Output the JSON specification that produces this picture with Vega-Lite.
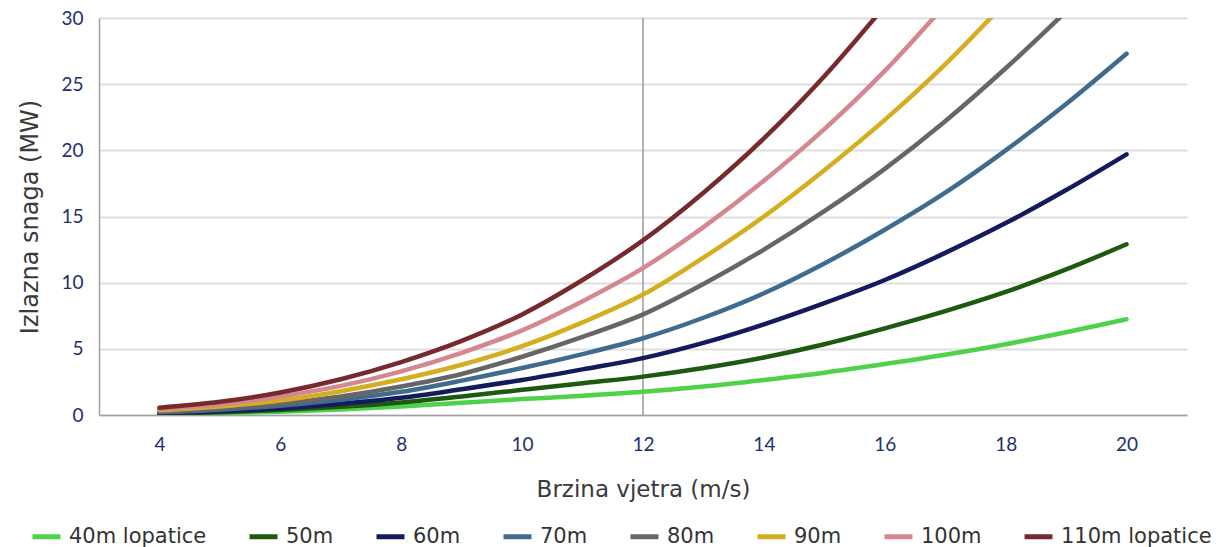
{
  "$schema": "https://vega.github.io/schema/vega-lite/v6.json",
  "width": 1088,
  "height": 397,
  "autosize": "none",
  "padding": {"left": 99, "top": 18, "right": 33, "bottom": 132},
  "background": "white",
  "config": {
    "view": {"stroke": null},
    "axis": {"titleFontWeight": "normal"}
  },
  "datasets": {
    "curves": [
      {"v":4,"s":"40m lopatice","p":0.07},{"v":5,"s":"40m lopatice","p":0.14},{"v":6,"s":"40m lopatice","p":0.25},{"v":7,"s":"40m lopatice","p":0.42},{"v":8,"s":"40m lopatice","p":0.65},{"v":9,"s":"40m lopatice","p":0.92},{"v":10,"s":"40m lopatice","p":1.2},{"v":11,"s":"40m lopatice","p":1.45},{"v":12,"s":"40m lopatice","p":1.75},{"v":13,"s":"40m lopatice","p":2.15},{"v":14,"s":"40m lopatice","p":2.65},{"v":15,"s":"40m lopatice","p":3.2},{"v":16,"s":"40m lopatice","p":3.85},{"v":17,"s":"40m lopatice","p":4.55},{"v":18,"s":"40m lopatice","p":5.35},{"v":19,"s":"40m lopatice","p":6.25},{"v":20,"s":"40m lopatice","p":7.23},
      {"v":4,"s":"50m","p":0.1},{"v":5,"s":"50m","p":0.2},{"v":6,"s":"50m","p":0.37},{"v":7,"s":"50m","p":0.62},{"v":8,"s":"50m","p":0.95},{"v":9,"s":"50m","p":1.4},{"v":10,"s":"50m","p":1.9},{"v":11,"s":"50m","p":2.4},{"v":12,"s":"50m","p":2.9},{"v":13,"s":"50m","p":3.55},{"v":14,"s":"50m","p":4.35},{"v":15,"s":"50m","p":5.35},{"v":16,"s":"50m","p":6.55},{"v":17,"s":"50m","p":7.85},{"v":18,"s":"50m","p":9.3},{"v":19,"s":"50m","p":11.0},{"v":20,"s":"50m","p":12.9},
      {"v":4,"s":"60m","p":0.15},{"v":5,"s":"60m","p":0.28},{"v":6,"s":"60m","p":0.5},{"v":7,"s":"60m","p":0.85},{"v":8,"s":"60m","p":1.3},{"v":9,"s":"60m","p":1.95},{"v":10,"s":"60m","p":2.65},{"v":11,"s":"60m","p":3.45},{"v":12,"s":"60m","p":4.3},{"v":13,"s":"60m","p":5.45},{"v":14,"s":"60m","p":6.85},{"v":15,"s":"60m","p":8.45},{"v":16,"s":"60m","p":10.2},{"v":17,"s":"60m","p":12.25},{"v":18,"s":"60m","p":14.5},{"v":19,"s":"60m","p":17.0},{"v":20,"s":"60m","p":19.7},
      {"v":4,"s":"70m","p":0.2},{"v":5,"s":"70m","p":0.4},{"v":6,"s":"70m","p":0.7},{"v":7,"s":"70m","p":1.15},{"v":8,"s":"70m","p":1.75},{"v":9,"s":"70m","p":2.6},{"v":10,"s":"70m","p":3.55},{"v":11,"s":"70m","p":4.6},{"v":12,"s":"70m","p":5.8},{"v":13,"s":"70m","p":7.35},{"v":14,"s":"70m","p":9.2},{"v":15,"s":"70m","p":11.45},{"v":16,"s":"70m","p":14.0},{"v":17,"s":"70m","p":16.8},{"v":18,"s":"70m","p":20.0},{"v":19,"s":"70m","p":23.5},{"v":20,"s":"70m","p":27.3},
      {"v":4,"s":"80m","p":0.27},{"v":5,"s":"80m","p":0.5},{"v":6,"s":"80m","p":0.85},{"v":7,"s":"80m","p":1.4},{"v":8,"s":"80m","p":2.15},{"v":9,"s":"80m","p":3.1},{"v":10,"s":"80m","p":4.4},{"v":11,"s":"80m","p":5.9},{"v":12,"s":"80m","p":7.6},{"v":13,"s":"80m","p":9.9},{"v":14,"s":"80m","p":12.5},{"v":15,"s":"80m","p":15.4},{"v":16,"s":"80m","p":18.6},{"v":17,"s":"80m","p":22.2},{"v":18,"s":"80m","p":26.2},{"v":19,"s":"80m","p":30.5},{"v":20,"s":"80m","p":35.0},
      {"v":4,"s":"90m","p":0.35},{"v":5,"s":"90m","p":0.65},{"v":6,"s":"90m","p":1.1},{"v":7,"s":"90m","p":1.8},{"v":8,"s":"90m","p":2.7},{"v":9,"s":"90m","p":3.8},{"v":10,"s":"90m","p":5.2},{"v":11,"s":"90m","p":7.0},{"v":12,"s":"90m","p":9.1},{"v":13,"s":"90m","p":11.9},{"v":14,"s":"90m","p":15.0},{"v":15,"s":"90m","p":18.5},{"v":16,"s":"90m","p":22.3},{"v":17,"s":"90m","p":26.5},{"v":18,"s":"90m","p":31.2},
      {"v":4,"s":"100m","p":0.45},{"v":5,"s":"100m","p":0.8},{"v":6,"s":"100m","p":1.4},{"v":7,"s":"100m","p":2.2},{"v":8,"s":"100m","p":3.3},{"v":9,"s":"100m","p":4.7},{"v":10,"s":"100m","p":6.4},{"v":11,"s":"100m","p":8.6},{"v":12,"s":"100m","p":11.1},{"v":13,"s":"100m","p":14.2},{"v":14,"s":"100m","p":17.7},{"v":15,"s":"100m","p":21.6},{"v":16,"s":"100m","p":26.0},{"v":17,"s":"100m","p":31.0},
      {"v":4,"s":"110m lopatice","p":0.55},{"v":5,"s":"110m lopatice","p":1.0},{"v":6,"s":"110m lopatice","p":1.7},{"v":7,"s":"110m lopatice","p":2.7},{"v":8,"s":"110m lopatice","p":4.0},{"v":9,"s":"110m lopatice","p":5.6},{"v":10,"s":"110m lopatice","p":7.6},{"v":11,"s":"110m lopatice","p":10.2},{"v":12,"s":"110m lopatice","p":13.2},{"v":13,"s":"110m lopatice","p":16.8},{"v":14,"s":"110m lopatice","p":20.9},{"v":15,"s":"110m lopatice","p":25.6},{"v":16,"s":"110m lopatice","p":30.9}
    ],
    "marker": [{"v": 12}]
  },
  "layer": [
    {
      "data": {"name": "marker"},
      "mark": {"type": "rule", "color": "#8a8a8a", "strokeWidth": 1.3},
      "encoding": {
        "x": {"field": "v", "type": "quantitative"}
      }
    },
    {
      "data": {"name": "curves"},
      "mark": {"type": "line", "interpolate": "monotone", "strokeWidth": 4.5, "strokeCap": "round", "clip": true},
      "encoding": {
        "x": {
          "field": "v", "type": "quantitative",
          "scale": {"domain": [3, 21], "nice": false, "zero": false},
          "axis": {
            "values": [4, 6, 8, 10, 12, 14, 16, 18, 20],
            "format": "d",
            "title": "Brzina vjetra (m/s)",
            "grid": false, "ticks": false,
            "domainColor": "#a0a0a0", "domainWidth": 1.5,
            "labelFont": "Lato", "labelFontSize": 19, "labelColor": "#23306a", "labelPadding": 20,
            "titleFont": "DejaVu Sans", "titleFontSize": 23, "titleColor": "#3a3a3a", "titlePadding": 24
          }
        },
        "y": {
          "field": "p", "type": "quantitative",
          "scale": {"domain": [0, 30], "nice": false},
          "axis": {
            "values": [0, 5, 10, 15, 20, 25, 30],
            "format": "d",
            "title": "Izlazna snaga (MW)",
            "grid": true, "gridColor": "#dedede", "gridWidth": 2,
            "ticks": false,
            "domainColor": "#a0a0a0", "domainWidth": 1.5,
            "labelFont": "Lato", "labelFontSize": 19, "labelColor": "#23306a", "labelPadding": 16,
            "titleFont": "DejaVu Sans", "titleFontSize": 24, "titleColor": "#3a3a3a", "titlePadding": 18
          }
        },
        "color": {
          "field": "s", "type": "nominal",
          "scale": {
            "domain": ["40m lopatice", "50m", "60m", "70m", "80m", "90m", "100m", "110m lopatice"],
            "range": ["#4fd24a", "#1d5a10", "#141a5e", "#3f6b8f", "#666666", "#d4ae1f", "#d5878f", "#762a2e"]
          },
          "legend": {
            "orient": "none", "direction": "horizontal",
            "legendX": -69, "legendY": 502,
            "title": null,
            "padding": 0,
            "symbolType": "stroke", "symbolSize": 784, "symbolStrokeWidth": 5,
            "labelFont": "DejaVu Sans", "labelFontSize": 21, "labelColor": "#333333",
            "labelOffset": 6, "columnPadding": 32, "labelLimit": 300
          }
        }
      }
    }
  ]
}
